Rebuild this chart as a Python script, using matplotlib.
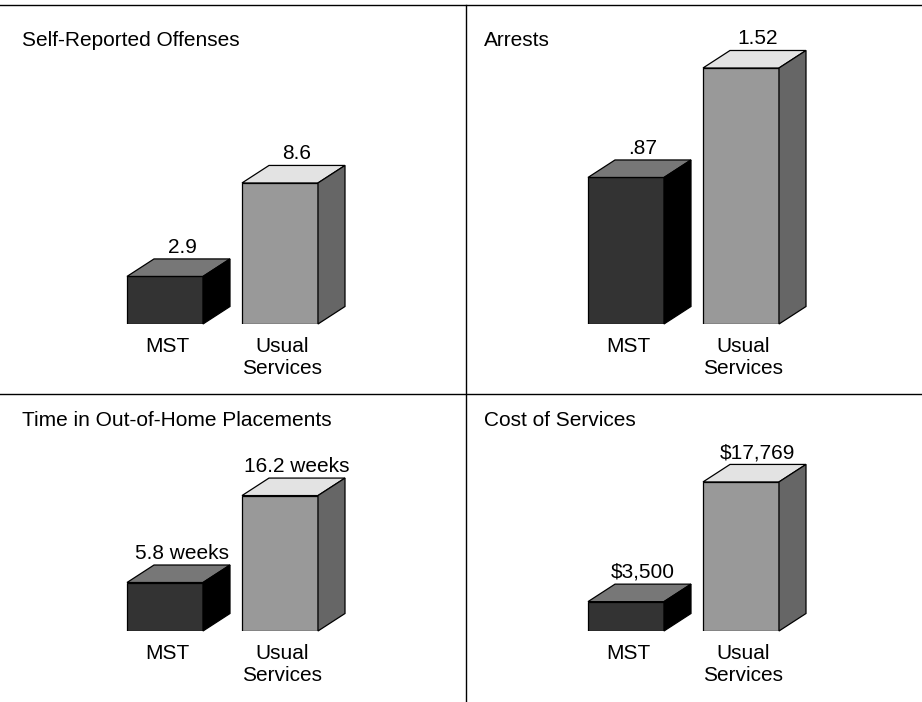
import matplotlib.pyplot as plt
from matplotlib.patches import Polygon
from matplotlib.lines import Line2D

plt.rcParams["font.family"] = ["Liberation Sans", "DejaVu Sans"]

# data
titles = ["Self-Reported Offenses", "Arrests",
          "Time in Out-of-Home Placements", "Cost of Services"]
categories = ["MST", "Usual\nServices"]
mst_values = [2.9, 0.87, 5.8, 3500]
usual_values = [8.6, 1.52, 16.2, 17769]
mst_labels = ["2.9", ".87", "5.8 weeks", "$3,500"]
usual_labels = ["8.6", "1.52", "16.2 weeks", "$17,769"]
y_max = [19.45, 1.894, 28.35, 28250]

W, H = 922, 702
fig = plt.figure(figsize=(W / 100, H / 100), dpi=100)

# panel layout in pixels: (left, baseline, height)
layout = [(0, 324, 319), (461, 324, 319), (0, 631, 237), (461, 631, 237)]
title_pos = [(22, 40), (484, 40), (22, 420), (484, 420)]
panel_w = 461
unit = 115          # px between the two bars
first = 165         # px of first bar centre inside panel
bar_w = 76 / unit
dx = 27 / unit

front_cols = ["#333333", "#999999"]
top_cols = ["#777777", "#e3e3e3"]
side_cols = ["#000000", "#666666"]

for k in range(4):
    x0, base, hpx = layout[k]
    ax = fig.add_axes([x0 / W, 1 - base / H, panel_w / W, hpx / H])
    ax.set_xlim(-first / unit, (panel_w - first) / unit)
    ax.set_ylim(0, y_max[k])
    ax.axis("off")
    dy = 17.5 * y_max[k] / hpx

    vals = [mst_values[k], usual_values[k]]
    labs = [mst_labels[k], usual_labels[k]]
    for i, v in enumerate(vals):
        ax.bar(i, v, width=bar_w, color=front_cols[i], edgecolor="black",
               linewidth=0.9, zorder=3)
        l, r = i - bar_w / 2, i + bar_w / 2
        top = Polygon([(l, v), (l + dx, v + dy), (r + dx, v + dy), (r, v)],
                      closed=True, facecolor=top_cols[i], edgecolor="black",
                      linewidth=0.9, zorder=3, clip_on=False)
        side = Polygon([(r, 0), (r, v), (r + dx, v + dy), (r + dx, dy)],
                       closed=True, facecolor=side_cols[i], edgecolor="black",
                       linewidth=0.9, zorder=3, clip_on=False)
        ax.add_patch(top)
        ax.add_patch(side)
        ax.annotate(labs[i], (i + dx / 2 + 0.03, v + dy), xytext=(0, 4.5),
                    textcoords="offset points", ha="center", va="baseline",
                    fontsize=15, annotation_clip=False)
        ax.annotate(categories[i], (i + 0.02, 0), xytext=(0, -9.5),
                    textcoords="offset points", ha="center", va="top",
                    fontsize=15, linespacing=1.2, annotation_clip=False)

    tx, ty = title_pos[k]
    fig.text(tx / W, 1 - ty / H, titles[k], fontsize=15, ha="left",
             va="center")

# frame lines
fig.add_artist(Line2D([0, 1], [1 - 5 / H, 1 - 5 / H], color="black", lw=1))
fig.add_artist(Line2D([0, 1], [1 - 394 / H, 1 - 394 / H], color="black", lw=1))
fig.add_artist(Line2D([466 / W, 466 / W], [0, 1 - 5 / H], color="black", lw=1))

fig.savefig("out.png", dpi=100, facecolor="white")
